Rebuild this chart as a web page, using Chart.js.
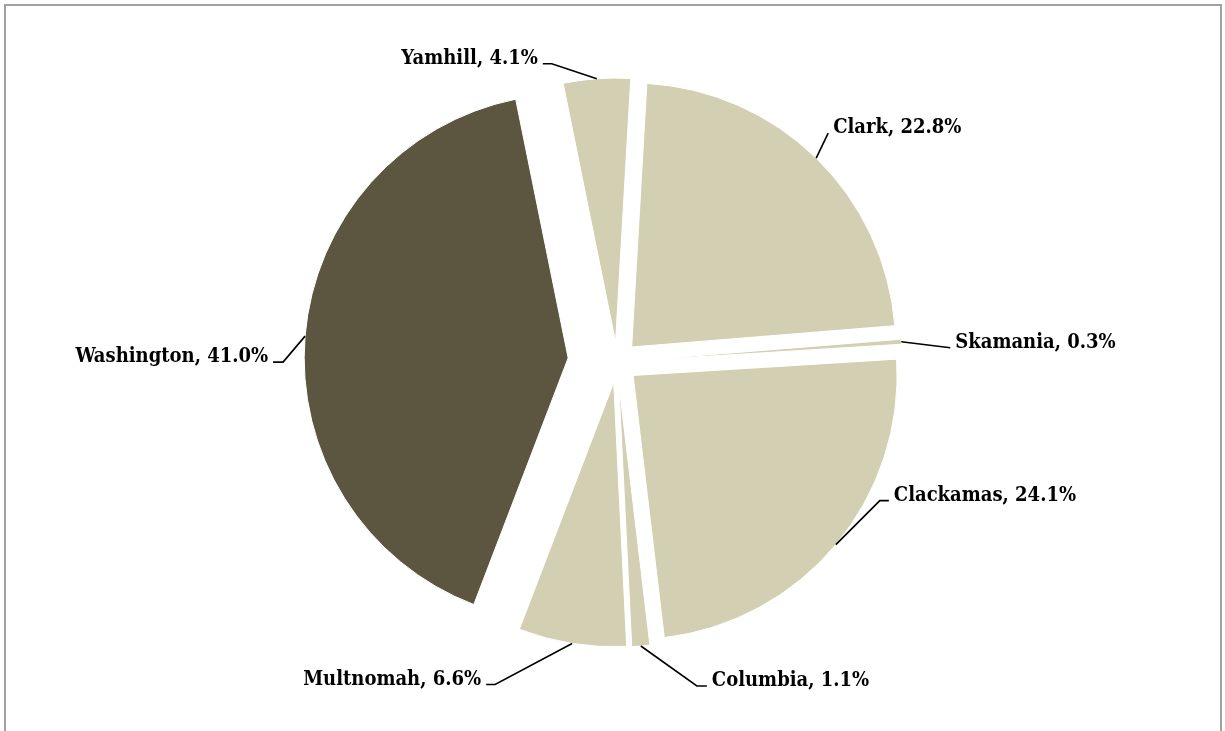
<!DOCTYPE html>
<html>
<head>
<meta charset="utf-8">
<script src="https://cdn.jsdelivr.net/npm/chart.js@4/dist/chart.umd.min.js"></script>
<style>
    html, body { margin: 0; padding: 0; background: #fff; overflow: hidden; }
    #frame {
        position: absolute; left: 4px; top: 4px;
        width: 1218px; height: 780px;
        border: 2px solid #a0a0a0; border-bottom: none;
        box-sizing: border-box;
    }
    #pieChart { position: absolute; left: 0; top: 0; }
</style>
</head>
<body>
<div id="frame"></div>
<canvas id="pieChart" width="1225" height="731"></canvas>
<script>
// Share by county, clockwise from Clark
const counties = ['Clark', 'Skamania', 'Clackamas', 'Columbia', 'Multnomah', 'Washington', 'Yamhill'];
const shares = [22.8, 0.3, 24.1, 1.1, 6.6, 41.0, 4.1];

// Slice colours and how far each slice is pulled out (px)
const sliceColors = ['#d3cfb2', '#d3cfb2', '#d3cfb2', '#d3cfb2', '#d3cfb2', '#5c553f', '#d3cfb2'];
const sliceOffsets = [21, 21, 21, 21, 21, 49, 20];

// Leader line elbow, relative to where the line leaves the slice
const leaderElbows = [[12, -25], [49, 6], [44, -44], [56, 40], [-77, 41], [-22, 26], [-45, -15]];
const leaderTails = [0, 0, 9, 10, 9, 10, 9];

const labelFont = 'bold 20px "DejaVu Serif Condensed", "DejaVu Serif", serif';

// Pull every slice away from the centre along its middle angle
const explodePlugin = {
    id: 'explode',
    beforeDatasetsDraw(chart) {
        const area = chart.chartArea;
        const cx = (area.left + area.right) / 2;
        const cy = (area.top + area.bottom) / 2;
        chart.getDatasetMeta(0).data.forEach((arc, i) => {
            const mid = (arc.startAngle + arc.endAngle) / 2;
            arc.x = cx + Math.cos(mid) * sliceOffsets[i];
            arc.y = cy + Math.sin(mid) * sliceOffsets[i];
        });
    }
};

// Outside labels with leader lines
const leaderLabels = {
    id: 'leaderLabels',
    afterDatasetsDraw(chart) {
        const ctx = chart.ctx;
        ctx.save();
        ctx.font = labelFont;
        ctx.fillStyle = '#000';
        ctx.strokeStyle = '#000';
        ctx.lineWidth = 1.6;
        ctx.textBaseline = 'middle';
        chart.getDatasetMeta(0).data.forEach((arc, i) => {
            const mid = (arc.startAngle + arc.endAngle) / 2;
            const ax = arc.x + Math.cos(mid) * arc.outerRadius;
            const ay = arc.y + Math.sin(mid) * arc.outerRadius;
            const ex = ax + leaderElbows[i][0];
            const ey = ay + leaderElbows[i][1];
            const dir = leaderElbows[i][0] >= 0 ? 1 : -1;
            const tx = ex + dir * leaderTails[i];

            ctx.beginPath();
            ctx.moveTo(ax, ay);
            ctx.lineTo(ex, ey);
            ctx.lineTo(tx, ey);
            ctx.stroke();

            ctx.textAlign = dir > 0 ? 'left' : 'right';
            ctx.fillText(`${counties[i]}, ${shares[i].toFixed(1)}%`, tx + dir * 5, ey - 5);
        });
        ctx.restore();
    }
};

new Chart(document.getElementById('pieChart'), {
    type: 'pie',
    data: {
        labels: counties,
        datasets: [{
            data: shares,
            backgroundColor: sliceColors,
            borderColor: '#ffffff',
            borderWidth: 1
        }]
    },
    options: {
        responsive: false,
        animation: false,
        rotation: 3.3,
        radius: 264,
        layout: { padding: { left: 9, right: 0, top: 0, bottom: 7 } },
        plugins: {
            legend: { display: false },
            tooltip: { enabled: false }
        }
    },
    plugins: [explodePlugin, leaderLabels]
});
</script>
</body>
</html>
